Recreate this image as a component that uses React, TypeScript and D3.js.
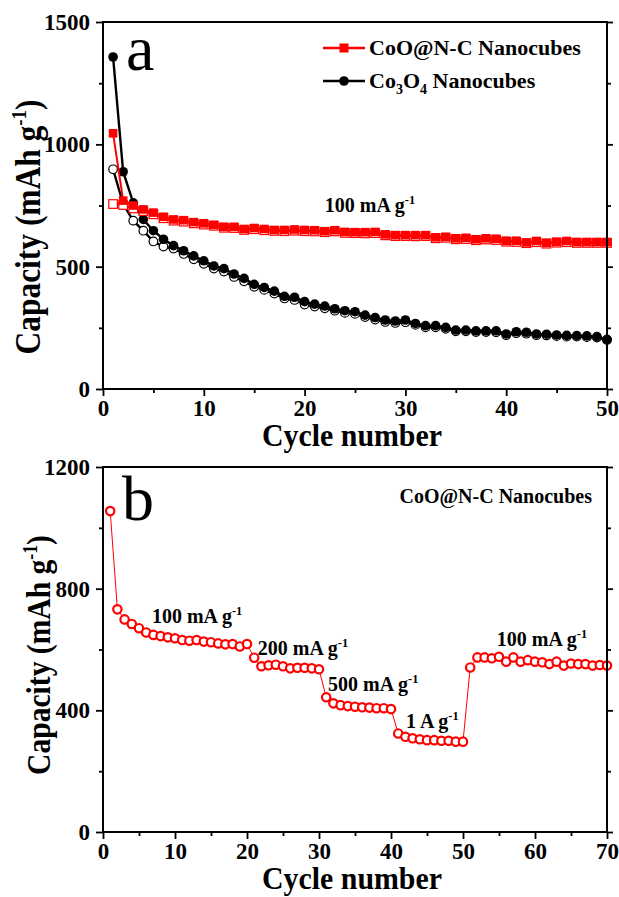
import React, { useEffect, useRef } from 'react';
import * as d3 from 'd3';

const W = 619;
const H = 897;
const FONT = '"Liberation Serif", "Times New Roman", Times, serif';
const RED = '#ff0000';

// (a) cycling at 100 mA g-1, cycles 1..50
const cooCharge = [1045, 770, 750, 734, 721, 704, 693, 690, 682, 677, 671, 663, 663, 654, 658, 654, 650, 650, 652, 650,
  649, 645, 649, 642, 641, 641, 642, 632, 629, 629, 629, 629, 620, 622, 616, 618, 612, 616, 614, 606,
  606, 599, 605, 598, 602, 605, 601, 601, 601, 601];
const cooDischarge = [756, 752, 738, 727, 714, 698, 688, 684, 677, 672, 667, 659, 658, 650, 653, 649, 646, 645, 647, 645,
  644, 641, 644, 638, 637, 636, 637, 628, 625, 625, 624, 625, 616, 618, 612, 613, 608, 611, 609, 602,
  601, 596, 600, 594, 598, 600, 597, 597, 597, 597];
const co3o4Charge = [1357, 888, 761, 693, 647, 612, 586, 565, 544, 524, 503, 492, 470, 452, 428, 415, 400, 379, 375, 357,
  347, 339, 328, 320, 316, 302, 292, 282, 278, 282, 268, 259, 259, 252, 241, 241, 238, 238, 238, 225,
  234, 232, 225, 224, 221, 219, 218, 217, 214, 203];
const co3o4Discharge = [898, 756, 688, 647, 603, 582, 574, 552, 530, 512, 492, 480, 458, 440, 418, 405, 390, 370, 364, 345,
  337, 330, 320, 311, 307, 294, 284, 274, 270, 273, 262, 252, 252, 246, 236, 236, 233, 233, 232, 220,
  228, 226, 220, 219, 216, 214, 214, 212, 210, 200];

// (b) rate capability, cycles 1..70
const rateCapacity = [1055, 732, 699, 684, 670, 656, 648, 644, 640, 637, 631, 629, 631, 626, 624, 620, 617, 618, 610, 618,
  573, 545, 548, 550, 545, 538, 540, 540, 538, 535,
  443, 423, 417, 414, 412, 410, 409, 407, 407, 404,
  324, 313, 308, 305, 302, 302, 300, 300, 297, 297,
  541, 574, 574, 571, 576, 560, 574, 560, 565, 560, 558, 552, 560, 547, 554, 552, 552, 547, 549, 547];

// rate labels: [main text, cycle, capacity] where the label baseline starts
const rateLabels: [string, number, number][] = [
  ['100 mA g', 6.8, 687],
  ['200 mA g', 21.5, 582],
  ['500 mA g', 31.25, 463],
  ['1 A g', 42.1, 342],
  ['100 mA g', 54.7, 611],
];

const xTicksA = [0, 10, 20, 30, 40, 50];
const xMinorA = [5, 15, 25, 35, 45];
const yTicksA = [0, 500, 1000, 1500];
const yMinorA = [250, 750, 1250];
const xTicksB = [0, 10, 20, 30, 40, 50, 60, 70];
const xMinorB = [5, 15, 25, 35, 45, 55, 65];
const yTicksB = [0, 400, 800, 1200];
const yMinorB = [200, 600, 1000];

type Sel = d3.Selection<SVGGElement, unknown, null, undefined>;

const drawFrame = (g: Sel, x: d3.ScaleLinear<number, number>, y: d3.ScaleLinear<number, number>,
  xt: number[], xm: number[], yt: number[], ym: number[], labelBaselineX: number, labelCenterY: number, ySize: number, yLen: number) => {
  const [x0, x1] = x.range();
  const [y0, y1] = y.range();
  const bottom = y0;

  const styleAxis = (a: Sel) => {
    a.select('.domain').remove();
    a.selectAll('line').attr('stroke', '#000').attr('stroke-width', 1.8);
    a.selectAll('text').attr('font-family', FONT).attr('font-weight', 'bold').attr('font-size', 23).attr('fill', '#000');
  };

  g.append('g').attr('transform', `translate(0,${bottom})`)
    .call(d3.axisBottom(x).tickValues(xt).tickSize(7).tickPadding(4).tickFormat(d3.format('d')) as any)
    .call(styleAxis);
  g.append('g').attr('transform', `translate(0,${bottom})`)
    .call(d3.axisBottom(x).tickValues(xm).tickSize(4).tickFormat(() => '') as any)
    .call(styleAxis);
  g.append('g').attr('transform', `translate(${x0},0)`)
    .call(d3.axisLeft(y).tickValues(yt).tickSize(7).tickPadding(6).tickFormat(d3.format('d')) as any)
    .call(styleAxis);
  g.append('g').attr('transform', `translate(${x0},0)`)
    .call(d3.axisLeft(y).tickValues(ym).tickSize(4).tickFormat(() => '') as any)
    .call(styleAxis);
  g.append('g').attr('transform', `translate(${x1},0)`)
    .call(d3.axisRight(y).tickValues(yt).tickSize(6).tickFormat(() => '') as any)
    .call(styleAxis);
  g.append('g').attr('transform', `translate(${x1},0)`)
    .call(d3.axisRight(y).tickValues(ym).tickSize(4).tickFormat(() => '') as any)
    .call(styleAxis);

  g.append('rect')
    .attr('x', x0).attr('y', y1).attr('width', x1 - x0).attr('height', y0 - y1)
    .attr('fill', 'none').attr('stroke', '#000').attr('stroke-width', 2);

  // x title, squeezed to the reference width
  const xTitle = g.append('text')
    .attr('font-family', FONT).attr('font-weight', 'bold').attr('font-size', 31)
    .attr('text-anchor', 'middle')
    .text('Cycle number');
  const xl = (xTitle.node() as SVGTextElement).getComputedTextLength();
  xTitle.attr('transform', `translate(352,${bottom + 57}) scale(${180 / xl},1)`);

  // y title
  const yl = g.append('text')
    .attr('font-family', FONT).attr('font-weight', 'bold').attr('font-size', ySize)
    .attr('text-anchor', 'middle');
  yl.append('tspan').text('Capacity (mAh g');
  yl.append('tspan').attr('font-size', ySize * 0.6).attr('dy', -ySize * 0.38).text('-1');
  yl.append('tspan').attr('dy', ySize * 0.38).text(')');
  const ylen = (yl.node() as SVGTextElement).getComputedTextLength();
  yl.attr('transform', `translate(${labelBaselineX},${labelCenterY}) rotate(-90) scale(${yLen / ylen},1)`);
};

const unitText = (g: Sel, px: number, py: number, main: string, size: number) => {
  const t = g.append('text')
    .attr('x', px).attr('y', py)
    .attr('font-family', FONT).attr('font-weight', 'bold').attr('font-size', size).attr('fill', '#000');
  t.append('tspan').text(main);
  t.append('tspan').attr('font-size', size * 0.62).attr('dy', -size * 0.42).text('-1');
  return t;
};

const App = () => {
  const svgRef = useRef<SVGSVGElement | null>(null);

  useEffect(() => {
    const svg = d3.select(svgRef.current);
    svg.selectAll('*').remove();
    svg.append('rect').attr('width', W).attr('height', H).attr('fill', '#fff');

    // ---------- panel a ----------
    const xa = d3.scaleLinear().domain([0, 50]).range([103, 607]);
    const ya = d3.scaleLinear().domain([0, 1500]).range([389, 22]);
    const ga = svg.append('g') as unknown as Sel;

    const lineA = (vals: number[]) => d3.line<number>().x((_, i) => xa(i + 1)).y(d => ya(d))(vals);

    // Co3O4 discharge (open) then charge (filled)
    ga.append('path').attr('d', lineA(co3o4Discharge)).attr('fill', 'none').attr('stroke', '#000').attr('stroke-width', 2.4);
    ga.append('g').selectAll('circle').data(co3o4Discharge).join('circle')
      .attr('cx', (_, i) => xa(i + 1)).attr('cy', d => ya(d)).attr('r', 4.3)
      .attr('fill', '#fff').attr('stroke', '#000').attr('stroke-width', 1.2);
    ga.append('path').attr('d', lineA(co3o4Charge)).attr('fill', 'none').attr('stroke', '#000').attr('stroke-width', 2.4);
    ga.append('g').selectAll('circle').data(co3o4Charge).join('circle')
      .attr('cx', (_, i) => xa(i + 1)).attr('cy', d => ya(d)).attr('r', 4.8)
      .attr('fill', '#000');

    // CoO@N-C discharge (open) then charge (filled)
    const sq = 8.6;
    ga.append('path').attr('d', lineA(cooDischarge)).attr('fill', 'none').attr('stroke', RED).attr('stroke-width', 2);
    ga.append('g').selectAll('rect').data(cooDischarge).join('rect')
      .attr('x', (_, i) => xa(i + 1) - sq / 2).attr('y', d => ya(d) - sq / 2).attr('width', sq).attr('height', sq)
      .attr('fill', '#fff').attr('stroke', RED).attr('stroke-width', 1.2);
    ga.append('path').attr('d', lineA(cooCharge)).attr('fill', 'none').attr('stroke', RED).attr('stroke-width', 2);
    ga.append('g').selectAll('rect').data(cooCharge).join('rect')
      .attr('x', (_, i) => xa(i + 1) - sq / 2).attr('y', d => ya(d) - sq / 2).attr('width', sq).attr('height', sq)
      .attr('fill', RED);

    drawFrame(ga, xa, ya, xTicksA, xMinorA, yTicksA, yMinorA, 40, 227, 36, 255);

    ga.append('text').attr('x', 126).attr('y', 70)
      .attr('font-family', FONT).attr('font-size', 64).text('a');

    unitText(ga, xa(22), ya(723), '100 mA g', 20);

    // legend
    ga.append('line').attr('x1', 323).attr('x2', 365).attr('y1', 48).attr('y2', 48).attr('stroke', RED).attr('stroke-width', 2.4);
    ga.append('rect').attr('x', 344 - 4.5).attr('y', 48 - 4.5).attr('width', 9).attr('height', 9).attr('fill', RED);
    ga.append('text').attr('x', 369).attr('y', 55)
      .attr('font-family', FONT).attr('font-weight', 'bold').attr('font-size', 22).text('CoO@N-C Nanocubes');
    ga.append('line').attr('x1', 323).attr('x2', 365).attr('y1', 81).attr('y2', 81).attr('stroke', '#000').attr('stroke-width', 2.4);
    ga.append('circle').attr('cx', 344).attr('cy', 81).attr('r', 4.8).attr('fill', '#000');
    const lg = ga.append('text').attr('x', 369).attr('y', 88)
      .attr('font-family', FONT).attr('font-weight', 'bold').attr('font-size', 22);
    lg.append('tspan').text('Co');
    lg.append('tspan').attr('font-size', 14).attr('dy', 6).text('3');
    lg.append('tspan').attr('dy', -6).text('O');
    lg.append('tspan').attr('font-size', 14).attr('dy', 6).text('4');
    lg.append('tspan').attr('dy', -6).text(' Nanocubes');

    // ---------- panel b ----------
    const xb = d3.scaleLinear().domain([0, 70]).range([103, 607]);
    const yb = d3.scaleLinear().domain([0, 1200]).range([832, 467]);
    const gb = svg.append('g') as unknown as Sel;

    gb.append('path')
      .attr('d', d3.line<number>().x((_, i) => xb(i + 1)).y(d => yb(d))(rateCapacity))
      .attr('fill', 'none').attr('stroke', RED).attr('stroke-width', 1);
    gb.append('g').selectAll('circle').data(rateCapacity).join('circle')
      .attr('cx', (_, i) => xb(i + 1)).attr('cy', d => yb(d)).attr('r', 4.2)
      .attr('fill', '#fff').attr('stroke', RED).attr('stroke-width', 2.2);

    drawFrame(gb, xb, yb, xTicksB, xMinorB, yTicksB, yMinorB, 50, 655, 34, 240);

    gb.append('text').attr('x', 122).attr('y', 520)
      .attr('font-family', FONT).attr('font-size', 64).text('b');

    rateLabels.forEach(([txt, c, v]) => unitText(gb, xb(c), yb(v), txt, 20));

    gb.append('text').attr('x', 592).attr('y', 503).attr('text-anchor', 'end')
      .attr('font-family', FONT).attr('font-weight', 'bold').attr('font-size', 20).text('CoO@N-C Nanocubes');
  }, []);

  return (
    <svg ref={svgRef} width={W} height={H} viewBox={`0 0 ${W} ${H}`}
      style={{ position: 'absolute', left: 0, top: 0, display: 'block' }} />
  );
};

export default App;
